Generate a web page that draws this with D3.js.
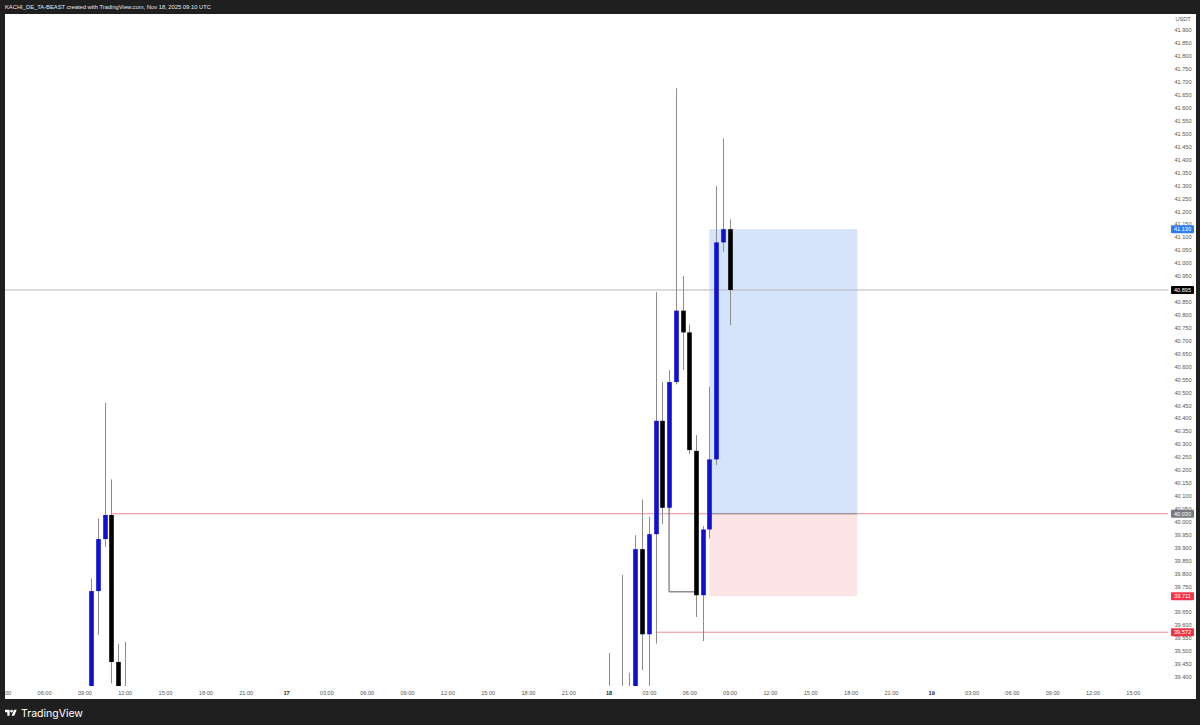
<!DOCTYPE html>
<html>
<head>
<meta charset="utf-8">
<script src="https://cdn.jsdelivr.net/npm/d3@7"></script>
<style>
  html, body { margin:0; padding:0; background:#1f1f1f; }
  svg { display:block; font-family: "Liberation Sans", Roboto, sans-serif; }
</style>
</head>
<body>
<div id="chart"></div>
<script>
// 30 minute candles, USDT
var candleTimes = [
	"2025-11-16T09:30Z","2025-11-16T10:00Z","2025-11-16T10:30Z","2025-11-16T11:00Z","2025-11-16T11:30Z","2025-11-16T12:00Z",
	"2025-11-18T00:00Z","2025-11-18T01:00Z","2025-11-18T01:30Z","2025-11-18T02:00Z","2025-11-18T02:30Z","2025-11-18T03:00Z",
	"2025-11-18T03:30Z","2025-11-18T04:00Z","2025-11-18T04:30Z","2025-11-18T05:00Z","2025-11-18T05:30Z","2025-11-18T06:00Z",
	"2025-11-18T06:30Z","2025-11-18T07:00Z","2025-11-18T07:30Z","2025-11-18T08:00Z","2025-11-18T08:30Z","2025-11-18T09:00Z"];
var opens  = [39.30, 39.731, 39.932, 40.025, 39.457, 39.25,
	39.25, 39.30, 39.28, 39.30, 39.893, 39.564,
	39.951, 40.389, 40.053, 40.539, 40.815, 40.731,
	40.273, 39.715, 39.969, 40.240, 41.079, 41.130];
var highs  = [39.779, 40.012, 40.459, 40.163, 39.526, 39.535,
	39.492, 39.793, 39.415, 39.947, 40.085, 40.018,
	40.887, 40.540, 40.585, 41.675, 40.949, 40.762,
	40.334, 39.982, 40.521, 41.297, 41.481, 41.168];
var lows   = [39.20, 39.561, 39.902, 39.374, 39.20, 39.15,
	39.15, 39.20, 39.20, 39.25, 39.425, 39.365,
	39.528, 39.990, 40.040, 40.530, 40.585, 40.260,
	39.631, 39.538, 39.934, 40.218, 41.043, 40.759];
var closes = [39.731, 39.932, 40.025, 39.457, 39.30, 39.20,
	39.30, 39.28, 39.32, 39.893, 39.564, 39.951,
	40.389, 40.053, 40.539, 40.815, 40.731, 40.276,
	39.715, 39.969, 40.240, 41.079, 41.130, 40.895];

var timeTicks = [
	"2025-11-16T03:00Z","2025-11-16T06:00Z","2025-11-16T09:00Z","2025-11-16T12:00Z","2025-11-16T15:00Z","2025-11-16T18:00Z","2025-11-16T21:00Z",
	"2025-11-17T00:00Z","2025-11-17T03:00Z","2025-11-17T06:00Z","2025-11-17T09:00Z","2025-11-17T12:00Z","2025-11-17T15:00Z","2025-11-17T18:00Z","2025-11-17T21:00Z",
	"2025-11-18T00:00Z","2025-11-18T03:00Z","2025-11-18T06:00Z","2025-11-18T09:00Z","2025-11-18T12:00Z","2025-11-18T15:00Z","2025-11-18T18:00Z","2025-11-18T21:00Z",
	"2025-11-19T00:00Z","2025-11-19T03:00Z","2025-11-19T06:00Z","2025-11-19T09:00Z","2025-11-19T12:00Z","2025-11-19T15:00Z"];
var priceTicks = d3.range(39.4, 41.901, 0.05);

var lastPrice = 40.895;
// long position tool
var posStart = "2025-11-18T07:30Z", posEnd = "2025-11-18T18:30Z";
var posEntry = 40.030, posTarget = 41.130, posStop = 39.711;
// horizontal rays
var rayStarts = ["2025-11-16T11:00Z", "2025-11-18T03:30Z"];
var rayPrices = [40.030, 39.572];
// small hand drawn bracket
var bracketTimes = ["2025-11-18T04:30Z", "2025-11-18T04:30Z", "2025-11-18T06:30Z"];
var bracketPrices = [40.053, 39.728, 39.728];

var W = 1200, H = 725;
var plot = {left:5, right:1168, top:14, bottom:686};

var svg = d3.select('#chart').append('svg').attr('width', W).attr('height', H);

svg.append('rect').attr('width', W).attr('height', H).attr('fill', '#1f1f1f');
svg.append('rect').attr('x', 5).attr('y', 14).attr('width', 1191).attr('height', 685).attr('fill', '#ffffff');

svg.append('text').attr('x', 5).attr('y', 9)
	.attr('fill', '#e8e8e8').style('font-size', '5.8px')
	.text('KACHI_DE_TA-BEAST created with TradingView.com, Nov 18, 2025 09:10 UTC');

var x = d3.scaleUtc()
	.domain([new Date("2025-11-17T00:00Z"), new Date("2025-11-18T00:00Z")])
	.range([286, 608.6]);
var y = d3.scaleLinear().domain([39.4, 41.9]).range([676.7, 30]);

var defs = svg.append('defs');
defs.append('clipPath').attr('id', 'plotclip').append('rect')
	.attr('x', plot.left).attr('y', plot.top)
	.attr('width', plot.right - plot.left).attr('height', plot.bottom - plot.top);
defs.append('clipPath').attr('id', 'timeclip').append('rect')
	.attr('x', plot.left).attr('y', plot.bottom)
	.attr('width', plot.right - plot.left).attr('height', 13);

var g = svg.append('g').attr('clip-path', 'url(#plotclip)');

// position boxes
var px0 = x(new Date(posStart)), px1 = x(new Date(posEnd));
g.append('rect').attr('x', px0).attr('width', px1 - px0)
	.attr('y', y(posTarget)).attr('height', y(posEntry) - y(posTarget))
	.attr('fill', '#d5e3fb');
g.append('rect').attr('x', px0).attr('width', px1 - px0)
	.attr('y', y(posEntry)).attr('height', y(posStop) - y(posEntry))
	.attr('fill', '#fde4e6');

// last price line
g.append('line').attr('x1', plot.left).attr('x2', plot.right)
	.attr('y1', y(lastPrice)).attr('y2', y(lastPrice))
	.attr('stroke', '#b4b6bc').attr('stroke-width', 1);

// rays
rayStarts.forEach(function(s, i) {
	g.append('line').attr('x1', x(new Date(s))).attr('x2', plot.right)
		.attr('y1', y(rayPrices[i])).attr('y2', y(rayPrices[i]))
		.attr('stroke', '#f08a93').attr('stroke-width', 1);
});
g.append('line').attr('x1', px0).attr('x2', px1)
	.attr('y1', y(posEntry)).attr('y2', y(posEntry))
	.attr('stroke', '#8a8c92').attr('stroke-width', 1);

// bracket
var bracketLine = d3.line()
	.x(function(d) { return x(new Date(d[0])); })
	.y(function(d) { return y(d[1]); });
g.append('path')
	.datum(bracketTimes.map(function(t, i) { return [t, bracketPrices[i]]; }))
	.attr('d', bracketLine).attr('fill', 'none')
	.attr('stroke', '#555').attr('stroke-width', 1);

// candles
var candles = candleTimes.map(function(t, i) {
	return {t:new Date(t), o:opens[i], h:highs[i], l:lows[i], c:closes[i]};
});
var bw = 4.6;
g.selectAll('.wick').data(candles).enter().append('line')
	.attr('class', 'wick')
	.attr('x1', function(d) { return Math.round(x(d.t)) + 0.5; })
	.attr('x2', function(d) { return Math.round(x(d.t)) + 0.5; })
	.attr('y1', function(d) { return y(d.h); })
	.attr('y2', function(d) { return y(d.l); })
	.attr('stroke', '#8c8c8c').attr('stroke-width', 1);
g.selectAll('.body').data(candles).enter().append('rect')
	.attr('class', 'body')
	.attr('x', function(d) { return Math.round(x(d.t)) + 0.5 - bw / 2; })
	.attr('width', bw)
	.attr('y', function(d) { return y(Math.max(d.o, d.c)); })
	.attr('height', function(d) { return Math.max(1, Math.abs(y(d.o) - y(d.c))); })
	.attr('fill', function(d) { return d.c >= d.o ? '#1010d2' : '#000000'; });

// price labels (tags); axis labels too close to a tag are hidden like tradingview does
var tags = [
	{p:posTarget, bg:'#2f7cf6'},
	{p:lastPrice, bg:'#000000'},
	{p:posEntry, bg:'#777a80'},
	{p:posStop, bg:'#f23645'},
	{p:rayPrices[1], bg:'#f23645'}
];
var visibleTicks = priceTicks.filter(function(v) {
	return tags.every(function(t) { return Math.abs(y(v) - y(t.p)) > 4; });
});

// price axis
var yAxis = svg.append('g').attr('transform', 'translate(1183,0)')
	.call(d3.axisRight(y).tickValues(visibleTicks).tickFormat(d3.format('.3f')).tickSize(0));
yAxis.select('.domain').remove();
yAxis.selectAll('text').attr('x', 0).attr('dy', '0.35em')
	.attr('text-anchor', 'middle').attr('fill', '#555')
	.style('font-size', '5.6px').style('font-family', '"Liberation Sans", Roboto, sans-serif');
svg.append('text').attr('x', 1183).attr('y', 20.5).attr('text-anchor', 'middle')
	.attr('fill', '#555').style('font-size', '5.6px').text('USDT');

var tag = svg.selectAll('.tag').data(tags).enter().append('g')
	.attr('transform', function(d) { return 'translate(1171,' + y(d.p) + ')'; });
tag.append('rect').attr('x', 0).attr('y', -4).attr('width', 23).attr('height', 8)
	.attr('rx', 1).attr('fill', function(d) { return d.bg; });
tag.append('text').attr('x', 11.5).attr('y', 0).attr('dy', '0.35em')
	.attr('text-anchor', 'middle').attr('fill', '#fff').style('font-size', '5.6px')
	.text(function(d) { return d3.format('.3f')(d.p); });

// time axis
var xAxis = svg.append('g').attr('clip-path', 'url(#timeclip)')
	.append('g').attr('transform', 'translate(0,' + plot.bottom + ')')
	.call(d3.axisBottom(x).tickValues(timeTicks.map(function(t) { return new Date(t); }))
		.tickSize(0)
		.tickFormat(function(d) {
			return d.getUTCHours() === 0 ? d3.utcFormat('%-d')(d) : d3.utcFormat('%H:%M')(d);
		}));
xAxis.select('.domain').remove();
xAxis.selectAll('text').attr('y', 7).attr('dy', '0.35em')
	.style('font-size', '5.6px').style('font-family', '"Liberation Sans", Roboto, sans-serif')
	.style('font-weight', function(d) { return d.getUTCHours() === 0 ? 'bold' : 'normal'; })
	.attr('fill', function(d) { return d.getUTCHours() === 0 ? '#222' : '#555'; });

// footer logo
var logo = svg.append('g').attr('transform', 'translate(5,708.5) scale(0.33)');
logo.append('path').attr('d', 'M14 22H7V11H0V4h14v18z').attr('fill', '#fff');
logo.append('circle').attr('cx', 20).attr('cy', 8).attr('r', 4).attr('fill', '#fff');
logo.append('path').attr('d', 'M28 22h-8l7.5-18h8z').attr('fill', '#fff');
svg.append('text').attr('x', 21).attr('y', 716.5).attr('fill', '#fff')
	.style('font-size', '10.5px').style('font-family', 'Inter, Roboto, sans-serif')
	.text('TradingView');
</script>
</body>
</html>
